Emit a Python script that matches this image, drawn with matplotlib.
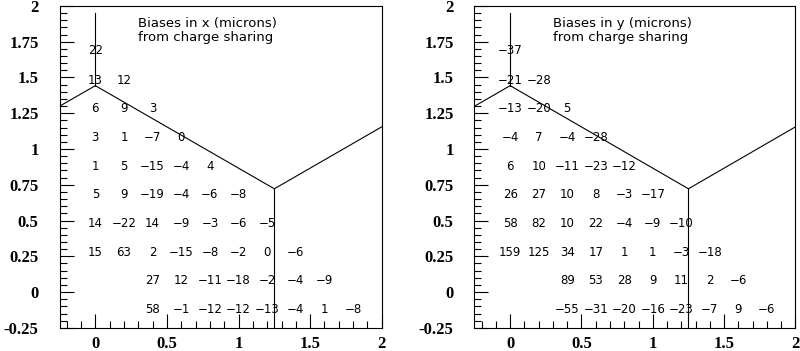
import numpy as np
import matplotlib
matplotlib.use('Agg')
import matplotlib.pyplot as plt
from matplotlib.ticker import MultipleLocator, FuncFormatter

# Grid of bias values (microns) ----------------------------------------------------------------------------------------
col_x = [0.0, 0.2, 0.4, 0.6, 0.8, 1.0, 1.2, 1.4, 1.6, 1.8]
row_y = [1.69, 1.48, 1.28, 1.08, 0.88, 0.68, 0.48, 0.28, 0.08, -0.12]
row_start = [0, 0, 0, 0, 0, 0, 0, 0, 2, 2]

bias_x = [[22],
          [13, 12],
          [6, 9, 3],
          [3, 1, -7, 0],
          [1, 5, -15, -4, 4],
          [5, 9, -19, -4, -6, -8],
          [14, -22, 14, -9, -3, -6, -5],
          [15, 63, 2, -15, -8, -2, 0, -6],
          [27, 12, -11, -18, -2, -4, -9],
          [58, -1, -12, -12, -13, -4, 1, -8]]

bias_y = [[-37],
          [-21, -28],
          [-13, -20, 5],
          [-4, 7, -4, -28],
          [6, 10, -11, -23, -12],
          [26, 27, 10, 8, -3, -17],
          [58, 82, 10, 22, -4, -9, -10],
          [159, 125, 34, 17, 1, 1, -3, -18],
          [89, 53, 28, 9, 11, 2, -6],
          [-55, -31, -20, -16, -23, -7, 9, -6]]

titles = ['Biases in x (microns)\nfrom charge sharing',
          'Biases in y (microns)\nfrom charge sharing']

# Pixel cell boundaries (hexagonal layout) -----------------------------------------------------------------------------
edge_x = [[0.0, 0.0], [-0.25, 0.0], [0.0, 1.25], [1.25, 1.25], [1.25, 2.0]]
edge_y = [[1.443, 1.95], [1.299, 1.443], [1.443, 0.722], [0.722, -0.25], [0.722, 1.155]]


def fmt(v, pos):
    s = '%g' % v
    return s


fig = plt.figure(figsize=(8, 3.51), dpi=100)
ax_pos = [[0.0744, 0.066, 0.4028, 0.917], [0.5931, 0.066, 0.4012, 0.917]]

for k, vals in enumerate([bias_x, bias_y]):
    ax = fig.add_axes(ax_pos[k])
    ax.set_xlim(-0.25, 2)
    ax.set_ylim(-0.25, 2)

    for ex, ey in zip(edge_x, edge_y):
        ax.plot(ex, ey, color='black', lw=0.8)

    for i, row in enumerate(vals):
        for j, v in enumerate(row):
            ax.text(col_x[row_start[i] + j], row_y[i], '%d' % v if v >= 0 else '\u2212%d' % -v,
                    ha='center', va='center', fontsize=8.5, family='DejaVu Sans')

    ax.text(0.30, 1.875, titles[k].split('\n')[0], ha='left', va='center', fontsize=9.5, family='DejaVu Sans')
    ax.text(0.30, 1.778, titles[k].split('\n')[1], ha='left', va='center', fontsize=9.5, family='DejaVu Sans')

    ax.xaxis.set_major_locator(MultipleLocator(0.5))
    ax.xaxis.set_minor_locator(MultipleLocator(0.1))
    ax.yaxis.set_major_locator(MultipleLocator(0.25))
    ax.yaxis.set_minor_locator(MultipleLocator(0.05))
    ax.xaxis.set_major_formatter(FuncFormatter(fmt))
    ax.yaxis.set_major_formatter(FuncFormatter(fmt))
    ax.tick_params(which='both', direction='in', top=False, right=False, width=0.8, colors='black')
    ax.tick_params(which='major', length=10)
    ax.tick_params(which='minor', length=5.3)
    ax.tick_params(axis='x', which='major', pad=6)
    ax.tick_params(axis='y', which='major', pad=15)
    for lab in ax.get_xticklabels() + ax.get_yticklabels():
        lab.set_fontfamily('Liberation Serif')
        lab.set_fontweight('bold')
        lab.set_fontsize(12)
    for sp in ax.spines.values():
        sp.set_linewidth(0.8)

fig.savefig('out.png', dpi=100)
